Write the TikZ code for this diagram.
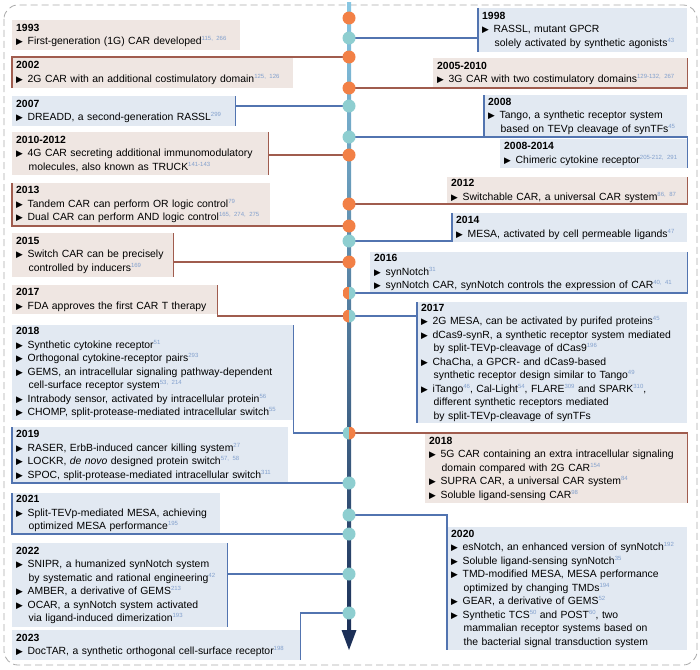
\documentclass[tikz,border=0pt]{standalone}
\usepackage{fontspec}
\setmainfont{Liberation Sans}
\newfontfamily\symF{DejaVu Sans}

\definecolor{carfill}{RGB}{239,230,226}
\definecolor{synfill}{RGB}{226,233,242}
\definecolor{carline}{RGB}{160,92,78}
\definecolor{synline}{RGB}{82,116,176}
\definecolor{dotO}{RGB}{242,128,70}
\definecolor{dotT}{RGB}{142,206,208}
\definecolor{refc}{RGB}{130,160,205}
\definecolor{axTop}{RGB}{135,198,226}
\definecolor{axBot}{RGB}{28,48,88}
\definecolor{frameC}{RGB}{170,170,170}

\newcommand{\yrT}[1]{\textbf{#1}}
\newcommand{\itm}[1]{\mbox{\makebox[11.5pt][l]{\symF\fontsize{8.8}{8.8}\selectfont ▶}#1}}
\newcommand{\cntL}[1]{\mbox{\hspace*{12.5pt}#1}}
\newcommand{\refN}[1]{\raisebox{3.8pt}{\fontsize{6}{6}\selectfont\color{refc}#1}}

\begin{document}
\begin{tikzpicture}
  [x=1pt,y=-1pt,
   boxN/.style={anchor=north west,inner xsep=4pt,inner ysep=0pt,align=left,
                font=\fontsize{10.4}{13.5}\selectfont},
   carN/.style={boxN,fill=carfill},
   synN/.style={boxN,fill=synfill},
   sz/.style 2 args={text width=#1pt,minimum height=#2pt},
   carL/.style={draw=carline,line width=1.1pt},
   synL/.style={draw=synline,line width=1.1pt},
   dotN/.style={circle,minimum size=13pt,inner sep=0pt},
   splitN/.style 2 args={dotN,path picture={
      \fill[#1] (path picture bounding box.south west) rectangle (path picture bounding box.north);
      \fill[#2] (path picture bounding box.south) rectangle (path picture bounding box.north east);}}
  ]

  \useasboundingbox (0,0) rectangle (700,669);
  \draw[frameC,line width=0.8pt,dash pattern=on 7pt off 4pt,rounded corners=14pt]
     (4,5) rectangle (697,665);

  % left column
  \node[carN,sz={220}{30}] (b1993) at (12,20)
    {\yrT{1993}\\ \itm{First-generation (1G) CAR developed\refN{115, 266}}};
  \node[carN,sz={273}{31}] (b2002) at (12,57)
    {\yrT{2002}\\ \itm{2G CAR with an additional costimulatory domain\refN{125, 126}}};
  \node[synN,sz={215}{30}] (b2007) at (12,96)
    {\yrT{2007}\\ \itm{DREADD, a second-generation RASSL\refN{299}}};
  \node[carN,sz={248}{43}] (b2010) at (12,132)
    {\yrT{2010-2012}\\ \itm{4G CAR secreting additional immunomodulatory}\\
     \cntL{molecules, also known as TRUCK\refN{141-143}}};
  \node[carN,sz={250}{43}] (b2013) at (12,183)
    {\yrT{2013}\\ \itm{Tandem CAR can perform OR logic control\refN{79}}\\
     \itm{Dual CAR can perform AND logic control\refN{165, 274, 275}}};
  \node[carN,sz={153}{44}] (b2015) at (12,233)
    {\yrT{2015}\\ \itm{Switch CAR can be precisely}\\ \cntL{controlled by inducers\refN{169}}};
  \node[carN,sz={197}{29}] (b2017L) at (12,285)
    {\yrT{2017}\\ \itm{FDA approves the first CAR T therapy}};
  \node[synN,sz={273}{95}] (b2018L) at (12,325)
    {\yrT{2018}\\ \itm{Synthetic cytokine receptor\refN{51}}\\
     \itm{Orthogonal cytokine-receptor pairs\refN{293}}\\
     \itm{GEMS, an intracellular signaling pathway-dependent}\\
     \cntL{cell-surface receptor system\refN{53, 214}}\\
     \itm{Intrabody sensor, activated by intracellular protein\refN{56}}\\
     \itm{CHOMP, split-protease-mediated intracellular switch\refN{55}}};
  \node[synN,sz={268}{56}] (b2019) at (12,427)
    {\yrT{2019}\\ \itm{RASER, ErbB-induced cancer killing system\refN{27}}\\
     \itm{LOCKR, \textit{de novo} designed protein switch\refN{57, 58}}\\
     \itm{SPOC, split-protease-mediated intracellular switch\refN{311}}};
  \node[synN,sz={200}{41}] (b2021) at (12,493)
    {\yrT{2021}\\ \itm{Split-TEVp-mediated MESA, achieving}\\
     \cntL{optimized MESA performance\refN{195}}};
  \node[synN,sz={207}{84}] (b2022) at (12,543)
    {\yrT{2022}\\ \itm{SNIPR, a humanized synNotch system}\\
     \cntL{by systematic and rational engineering\refN{42}}\\
     \itm{AMBER, a derivative of GEMS\refN{213}}\\
     \itm{OCAR, a synNotch system activated}\\
     \cntL{via ligand-induced dimerization\refN{193}}};
  \node[synN,sz={280}{30}] (b2023) at (12,630)
    {\yrT{2023}\\ \itm{DocTAR, a synthetic orthogonal cell-surface receptor\refN{198}}};

  % right column
  \node[synN,sz={201}{44}] (b1998) at (478,8)
    {\yrT{1998}\\ \itm{RASSL, mutant GPCR}\\
     \cntL{solely activated by synthetic agonists\refN{43}}};
  \node[carN,sz={246}{30}] (b2005) at (433,58)
    {\yrT{2005-2010}\\ \itm{3G CAR with two costimulatory domains\refN{129-132, 267}}};
  \node[synN,sz={195}{42}] (b2008) at (484,95)
    {\yrT{2008}\\ \itm{Tango, a synthetic receptor system}\\
     \cntL{based on TEVp cleavage of synTFs\refN{45}}};
  \node[synN,sz={179}{29}] (b2008b) at (500,139)
    {\yrT{2008-2014}\\ \itm{Chimeric cytokine receptor\refN{205-212, 291}}};
  \node[carN,sz={232}{27}] (b2012) at (447,177)
    {\yrT{2012}\\ \itm{Switchable CAR, a universal CAR system\refN{86, 87}}};
  \node[synN,sz={227}{29}] (b2014) at (452,213)
    {\yrT{2014}\\ \itm{MESA, activated by cell permeable ligands\refN{47}}};
  \node[synN,sz={309}{41}] (b2016) at (370,252)
    {\yrT{2016}\\ \itm{synNotch\refN{31}}\\
     \itm{synNotch CAR, synNotch controls the expression of CAR\refN{40, 41}}};
  \node[synN,sz={262}{121}] (b2017R) at (417,302)
    {\yrT{2017}\\ \itm{2G MESA, can be activated by purifed proteins\refN{45}}\\
     \itm{dCas9-synR, a synthetic receptor system mediated}\\
     \cntL{by split-TEVp-cleavage of dCas9\refN{196}}\\
     \itm{ChaCha, a GPCR- and dCas9-based}\\
     \cntL{synthetic receptor design similar to Tango\refN{49}}\\
     \itm{iTango\refN{46}, Cal-Light\refN{54}, FLARE\refN{309} and SPARK\refN{310},}\\
     \cntL{different synthetic receptors mediated}\\
     \cntL{by split-TEVp-cleavage of synTFs}};
  \node[carN,sz={254}{69}] (b2018R) at (425,434)
    {\yrT{2018}\\ \itm{5G CAR containing an extra intracellular signaling}\\
     \cntL{domain compared with 2G CAR\refN{154}}\\
     \itm{SUPRA CAR, a universal CAR system\refN{84}}\\
     \itm{Soluble ligand-sensing CAR\refN{98}}};
  \node[synN,sz={232}{123}] (b2020) at (447,527)
    {\yrT{2020}\\ \itm{esNotch, an enhanced version of synNotch\refN{192}}\\
     \itm{Soluble ligand-sensing synNotch\refN{35}}\\
     \itm{TMD-modified MESA, MESA performance}\\
     \cntL{optimized by changing TMDs\refN{194}}\\
     \itm{GEAR, a derivative of GEMS\refN{52}}\\
     \itm{Synthetic TCS\refN{50} and POST\refN{60}, two}\\
     \cntL{mammalian receptor systems based on}\\
     \cntL{the bacterial signal transduction system}};

  % dots on the time axis
  \foreach \y/\n in {18/1993,57/2002,88/2005,155/2010,204/2012,226/2013,262/2015} {
     \coordinate (d\n) at (349,\y);
  }
  \foreach \y/\n in {38/1998,106/2007,137/2008,241/2014,483/2019,515/2020,534/2021,574/2022,613/2023} {
     \coordinate (d\n) at (349,\y);
  }
  \coordinate (d2016) at (349,293);
  \coordinate (d2017) at (349,316);
  \coordinate (d2018) at (349,433);

  % connectors
  \draw[carL] (d2002) -| (b2002.south west);
  \draw[synL] (b2007.north east) -- (b2007.south east) (d2007) -- (d2007 -| b2007.east);
  \draw[carL] (b2010.north east) -- (b2010.south east) (d2010) -- (d2010 -| b2010.east);
  \draw[carL] (d2013) -| (b2013.north west);
  \draw[carL] (b2015.north east) -- (b2015.south east) (d2015) -- (d2015 -| b2015.east);
  \draw[carL] (b2017L.north east) |- (d2017);
  \draw[synL] (b2018L.north east) |- (d2018);
  \draw[synL] (d2019) -| (b2019.north west);
  \draw[synL] (d2021) -| (b2021.north west);
  \draw[synL] (b2022.north east) -- (b2022.south east) (d2022) -- (d2022 -| b2022.east);
  \draw[synL] (d2023) -| (b2023.south east);
  \draw[synL] (b1998.north west) -- (b1998.south west) (d1998) -- (d1998 -| b1998.west);
  \draw[carL] (d2005) -| (b2005.north east);
  \draw[synL] (b2008.north west) |- (d2008);
  \draw[synL] (d2008) -| (b2008b.south east);
  \draw[carL] (d2012) -| (b2012.north east);
  \draw[synL] (b2014.north west) |- (d2014);
  \draw[synL] (d2016) -| (b2016.north east);
  \draw[synL] (b2017R.north west) -- (b2017R.south west) (d2017) -- (d2017 -| b2017R.west);
  \draw[carL] (d2018) -| (b2018R.south east);
  \draw[synL] (d2020) -| (b2020.south west);

  % time axis
  \coordinate (axTopC) at (349,3);
  \coordinate (axBotC) at (349,650);
  \shade[top color=axTop,bottom color=axBot] (347,3) rectangle (351,634);
  \fill[axBot] (341.5,630) -- (356.5,630) -- (axBotC) -- cycle;

  \foreach \n in {1993,2002,2005,2010,2012,2013,2015} {
     \node[dotN,fill=dotO] at (d\n) {};
  }
  \foreach \n in {1998,2007,2008,2014,2019,2020,2021,2022,2023} {
     \node[dotN,fill=dotT] at (d\n) {};
  }
  \node[splitN={dotO}{dotT}] at (d2016) {};
  \node[splitN={dotO}{dotT}] at (d2017) {};
  \node[splitN={dotT}{dotO}] at (d2018) {};

\end{tikzpicture}
\end{document}
